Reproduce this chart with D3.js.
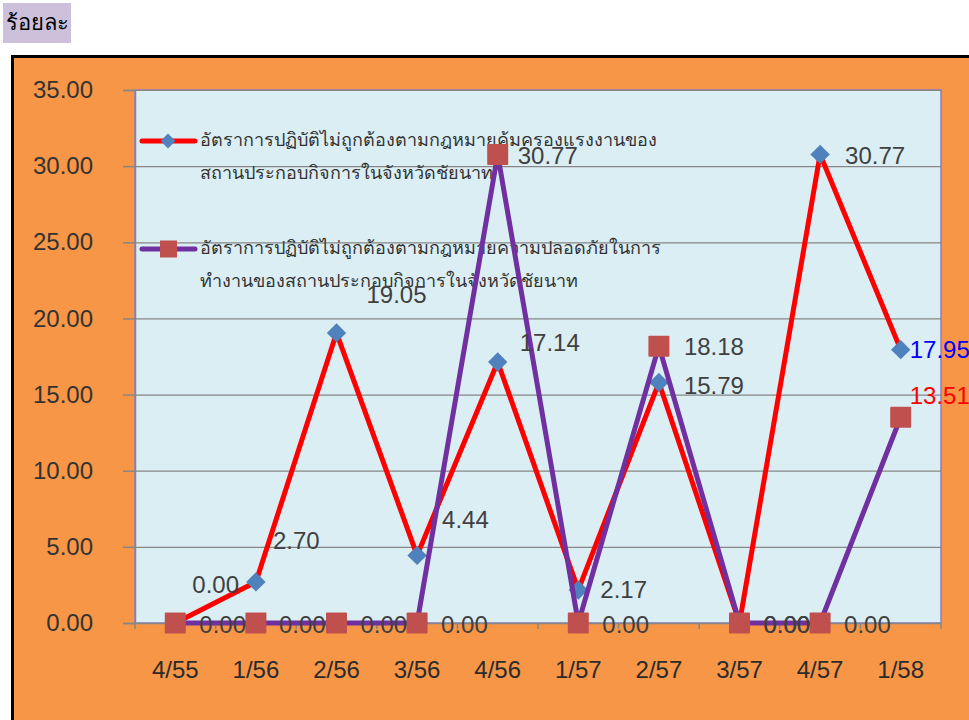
<!DOCTYPE html>
<html>
<head>
<meta charset="utf-8">
<script src="https://cdn.jsdelivr.net/npm/d3@7"></script>
<style>
  body { margin: 0; background: #ffffff; }
  svg { display: block; font-family: "Liberation Sans", "Noto Sans", sans-serif; }
</style>
</head>
<body>
<script>
const WIDTH = 969;
const HEIGHT = 720;

// datos
const periodos = ["4/55", "1/56", "2/56", "3/56", "4/56", "1/57", "2/57", "3/57", "4/57", "1/58"];
const nombreSerie1 = ["อัตราการปฏิบัติไม่ถูกต้องตามกฎหมายคุ้มครองแรงงานของ", "สถานประกอบกิจการในจังหวัดชัยนาท"];
const nombreSerie2 = ["อัตราการปฏิบัติไม่ถูกต้องตามกฎหมายความปลอดภัยในการ", "ทำงานของสถานประกอบกิจการในจังหวัดชัยนาท"];
const serie1 = [0.00, 2.70, 19.05, 4.44, 17.14, 2.17, 15.79, 0.00, 30.77, 17.95];
const serie2 = [0.00, 0.00, 0.00, 0.00, 30.77, 0.00, 18.18, 0.00, 0.00, 13.51];
const yTicks = [0, 5, 10, 15, 20, 25, 30, 35];
const unidad = "ร้อยละ";

// desplazamiento de las etiquetas respecto al punto [dx, dy]
const offsets1 = [[17, -36], [17, -39], [30, -36], [25, -34], [22, -17], [22, 2], [25, 5], [24, 4], [25, 3], [9, 2]];
const offsets2 = [[24, 4], [23, 4], [24, 4], [24, 4], [20, 3], [24, 4], [25, 3], [24, 4], [24, 4], [9, -20]];
const colorEtiqueta1 = d => d === 9 ? "#0000ff" : "#404040";
const colorEtiqueta2 = d => d === 9 ? "#ff0000" : "#404040";

const plot = { left: 135, top: 90, right: 941, bottom: 623 };

const svg = d3.select("body")
    .append("svg")
    .attr("width", WIDTH)
    .attr("height", HEIGHT);

// caja "ร้อยละ"
svg.append("rect")
    .attr("x", 3).attr("y", 3)
    .attr("width", 68).attr("height", 40)
    .attr("fill", "#ccc0da");
svg.append("text")
    .attr("x", 37).attr("y", 24)
    .attr("text-anchor", "middle")
    .attr("dominant-baseline", "middle")
    .attr("font-size", 22)
    .attr("font-weight", "normal")
    .attr("fill", "#000")
    .text(unidad);

// marco naranja
svg.append("rect")
    .attr("x", 12.5).attr("y", 56.5)
    .attr("width", 980).attr("height", 700)
    .attr("fill", "#f79646")
    .attr("stroke", "#000")
    .attr("stroke-width", 3);

const x = d3.scaleBand()
    .domain(periodos)
    .range([plot.left, plot.right]);

const y = d3.scaleLinear()
    .domain([0, 35])
    .range([plot.bottom, plot.top]);

// area del grafico
svg.append("rect")
    .attr("x", plot.left).attr("y", plot.top)
    .attr("width", plot.right - plot.left)
    .attr("height", plot.bottom - plot.top)
    .attr("fill", "#dbeef4")
    .attr("stroke", "#8e7cc3")
    .attr("stroke-width", 1.5);

// lineas de cuadricula
svg.append("g")
    .attr("transform", `translate(${plot.left},0)`)
    .call(d3.axisLeft(y).tickValues(yTicks).tickSize(-(plot.right - plot.left)).tickFormat(""))
    .call(g => g.select(".domain").remove())
    .call(g => g.selectAll("line").attr("stroke", "#868686").attr("stroke-width", 1.2));

// eje y
svg.append("g")
    .attr("transform", `translate(${plot.left},0)`)
    .call(d3.axisLeft(y).tickValues(yTicks).tickSize(12).tickPadding(30).tickFormat(d3.format(".2f")))
    .call(g => g.select(".domain").attr("stroke", "#868686").attr("stroke-width", 1.5))
    .call(g => g.selectAll("line").attr("stroke", "#868686").attr("stroke-width", 1.5))
    .call(g => g.selectAll("text")
        .attr("font-size", 24)
        .attr("font-family", "Liberation Sans")
        .attr("fill", "#333333"));

// eje x
const ejeX = svg.append("g")
    .attr("transform", `translate(0,${plot.bottom})`)
    .call(d3.axisBottom(x).tickSize(0).tickPadding(38))
    .call(g => g.select(".domain").attr("stroke", "#868686").attr("stroke-width", 1.5))
    .call(g => g.selectAll("text")
        .attr("font-size", 24)
        .attr("font-family", "Liberation Sans")
        .attr("fill", "#2b2b2b"));

ejeX.selectAll(".limite")
    .data(d3.range(periodos.length + 1))
    .enter().append("line")
    .attr("class", "limite")
    .attr("x1", d => plot.left + d * x.step())
    .attr("x2", d => plot.left + d * x.step())
    .attr("y1", 0).attr("y2", 6)
    .attr("stroke", "#868686")
    .attr("stroke-width", 1.5);

const cx = (d, i) => x(periodos[i]) + x.bandwidth() / 2;

// leyenda
const leyenda = [
    { nombre: nombreSerie1, color: "#ff0000", marca: "diamante", y: 141 },
    { nombre: nombreSerie2, color: "#7030a0", marca: "cuadrado", y: 249 }
];
leyenda.forEach(function(l) {
    const g = svg.append("g");
    g.append("line")
        .attr("x1", 142).attr("x2", 195)
        .attr("y1", l.y).attr("y2", l.y)
        .attr("stroke", l.color)
        .attr("stroke-width", 5)
        .attr("stroke-linecap", "round");
    if (l.marca === "diamante") {
        g.append("path")
            .attr("d", d3.symbol(d3.symbolDiamond2, 140)())
            .attr("transform", `translate(168,${l.y})`)
            .attr("fill", "#4f81bd");
    } else {
        g.append("rect")
            .attr("x", 160).attr("y", l.y - 8.5)
            .attr("width", 17).attr("height", 17)
            .attr("fill", "#c0504d");
    }
    g.selectAll("text")
        .data(l.nombre)
        .enter().append("text")
        .attr("x", 200)
        .attr("y", (d, i) => l.y + i * 33)
        .attr("dominant-baseline", "middle")
        .attr("font-size", 18)
        .attr("fill", "#333333")
        .text(d => d);
});

const linea = d3.line()
    .x(cx)
    .y(d => y(d));

// serie 1
svg.append("path")
    .datum(serie1)
    .attr("d", linea)
    .attr("fill", "none")
    .attr("stroke", "#ff0000")
    .attr("stroke-width", 5)
    .attr("stroke-linejoin", "round");

svg.selectAll(".diamante")
    .data(serie1)
    .enter().append("path")
    .attr("class", "diamante")
    .attr("d", d3.symbol(d3.symbolDiamond2, 240)())
    .attr("transform", (d, i) => `translate(${cx(d, i)},${y(d)})`)
    .attr("fill", "#4f81bd");

// serie 2
svg.append("path")
    .datum(serie2)
    .attr("d", linea)
    .attr("fill", "none")
    .attr("stroke", "#7030a0")
    .attr("stroke-width", 5)
    .attr("stroke-linejoin", "round");

svg.selectAll(".cuadrado")
    .data(serie2)
    .enter().append("rect")
    .attr("class", "cuadrado")
    .attr("x", (d, i) => cx(d, i) - 10.5)
    .attr("y", d => y(d) - 10.5)
    .attr("width", 21).attr("height", 21)
    .attr("rx", 1)
    .attr("fill", "#c0504d");

// etiquetas de datos
svg.selectAll(".etiqueta1")
    .data(serie1)
    .enter().append("text")
    .attr("class", "etiqueta1")
    .attr("x", (d, i) => cx(d, i) + offsets1[i][0])
    .attr("y", (d, i) => y(d) + offsets1[i][1])
    .attr("dominant-baseline", "middle")
    .attr("font-size", 24)
    .attr("fill", (d, i) => colorEtiqueta1(i))
    .text(d => d3.format(".2f")(d));

svg.selectAll(".etiqueta2")
    .data(serie2)
    .enter().append("text")
    .attr("class", "etiqueta2")
    .attr("x", (d, i) => cx(d, i) + offsets2[i][0])
    .attr("y", (d, i) => y(d) + offsets2[i][1])
    .attr("dominant-baseline", "middle")
    .attr("font-size", 24)
    .attr("fill", (d, i) => colorEtiqueta2(i))
    .text(d => d3.format(".2f")(d));
</script>
</body>
</html>
